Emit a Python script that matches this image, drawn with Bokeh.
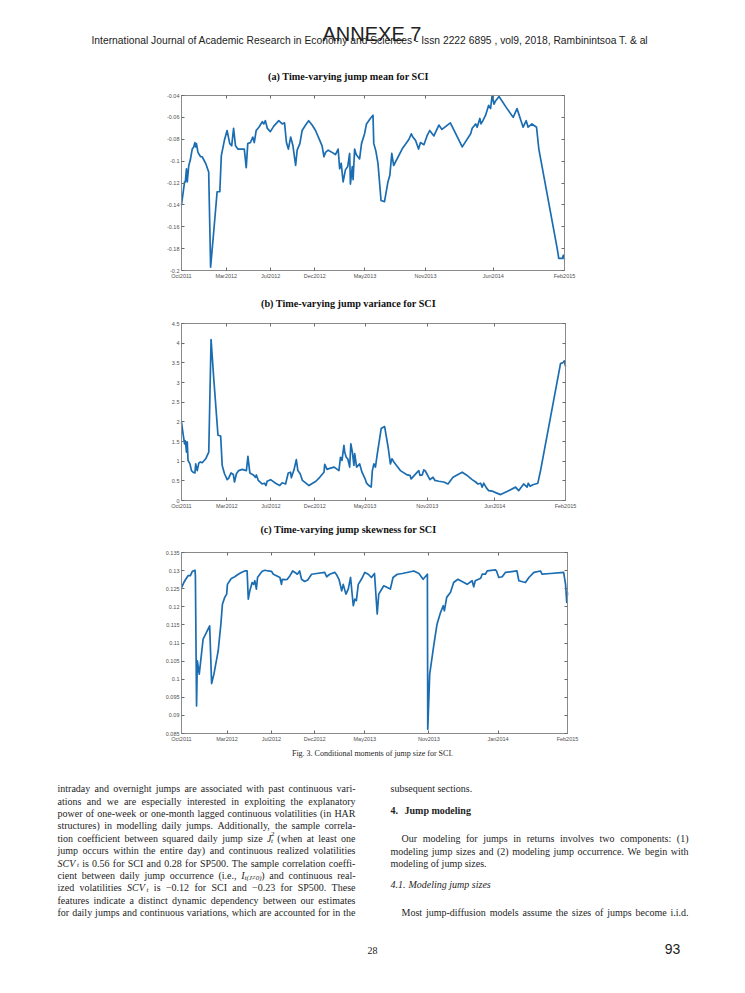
from bokeh.plotting import figure
from bokeh.models import Range1d, FixedTicker, LinearAxis, CustomJSTickFormatter
from bokeh.embed import file_html
from bokeh.resources import INLINE
from bokeh.core.properties import value

# ---------------- data (x = position along the sample, % of the period) ----------------
mean_pts = [(0.0,-0.140),(0.8,-0.119),(1.0,-0.119),(1.3,-0.107),(1.5,-0.119),(1.9,-0.104),(2.3,-0.099),
 (2.8,-0.089),(3.2,-0.087),(3.5,-0.083),(3.7,-0.087),(3.9,-0.084),(4.3,-0.092),(5.0,-0.096),(5.4,-0.096),
 (6.3,-0.102),(7.1,-0.110),(7.6,-0.197),(8.4,-0.165),(9.3,-0.128),(10.0,-0.128),(10.4,-0.095),(11.2,-0.081),
 (11.9,-0.072),(12.6,-0.084),(13.1,-0.086),(13.6,-0.070),(14.1,-0.086),(14.7,-0.089),(15.4,-0.089),
 (16.4,-0.089),(16.9,-0.106),(17.3,-0.084),(18.0,-0.083),(18.6,-0.078),(19.0,-0.083),(19.5,-0.072),
 (20.2,-0.069),(21.1,-0.064),(21.5,-0.066),(21.9,-0.063),(22.4,-0.070),(23.2,-0.073),(24.1,-0.068),
 (25.4,-0.063),(26.3,-0.066),(26.9,-0.065),(27.4,-0.083),(27.9,-0.089),(28.5,-0.078),(29.1,-0.086),
 (29.8,-0.104),(30.2,-0.090),(30.9,-0.084),(31.5,-0.072),(32.4,-0.067),(33.2,-0.063),(34.1,-0.067),
 (35.0,-0.072),(36.1,-0.081),(36.7,-0.086),(37.2,-0.096),(37.6,-0.092),(38.3,-0.090),(39.3,-0.092),
 (40.2,-0.094),(40.9,-0.089),(41.3,-0.107),(41.7,-0.102),(42.2,-0.119),(42.8,-0.108),(43.4,-0.105),
 (43.9,-0.093),(44.1,-0.121),(44.6,-0.105),(44.8,-0.117),(45.2,-0.089),(45.6,-0.094),(46.5,-0.098),
 (47.0,-0.084),(47.8,-0.075),(48.3,-0.066),(49.3,-0.061),(50.0,-0.058),(50.2,-0.084),(50.7,-0.090),
 (51.3,-0.102),(52.1,-0.136),(53.0,-0.137),(53.9,-0.119),(54.4,-0.113),(54.9,-0.093),(55.4,-0.104),
 (57.6,-0.089),(59.4,-0.080),(60.0,-0.075),(60.4,-0.078),(61.1,-0.081),(61.9,-0.089),(62.4,-0.083),
 (63.3,-0.085),(64.1,-0.077),(64.8,-0.072),(65.9,-0.077),(67.2,-0.067),(68.0,-0.071),(70.2,-0.065),
 (73.3,-0.087),(75.5,-0.075),(75.9,-0.070),(76.8,-0.066),(77.2,-0.069),(77.9,-0.061),(78.2,-0.066),
 (78.7,-0.063),(79.4,-0.058),(80.2,-0.049),(80.7,-0.052),(81.1,-0.040),(81.6,-0.048),(82.0,-0.045),
 (82.9,-0.041),(85.0,-0.052),(86.6,-0.060),(87.6,-0.052),(89.2,-0.069),(90.0,-0.063),(90.5,-0.069),
 (91.5,-0.066),(92.7,-0.069),(93.3,-0.089),(98.1,-0.180),(98.5,-0.189),(99.4,-0.189),(99.7,-0.186),
 (100.0,-0.190)]

var_pts = [(0.0,1.99),(0.4,1.70),(0.8,1.44),(1.0,1.52),(1.3,1.23),(1.5,1.49),(1.7,1.02),(2.2,0.93),
 (2.6,0.76),(3.0,0.72),(3.5,0.70),(3.7,0.93),(4.1,0.76),(4.5,0.95),(4.9,0.98),(5.4,0.96),(6.3,1.06),
 (7.1,1.23),(7.7,4.09),(8.4,3.10),(9.5,1.66),(10.2,1.64),(10.6,0.89),(11.2,0.68),(11.9,0.53),(12.3,0.57),
 (12.9,0.70),(13.5,0.66),(13.8,0.47),(14.3,0.68),(14.9,0.76),(15.8,0.79),(16.9,0.76),(17.3,1.12),
 (17.8,0.70),(18.7,0.65),(19.3,0.59),(19.5,0.65),(20.0,0.51),(21.0,0.42),(21.6,0.44),(22.0,0.38),
 (22.3,0.49),(23.2,0.53),(24.5,0.44),(25.6,0.38),(26.2,0.45),(27.1,0.42),(27.8,0.70),(28.4,0.72),
 (28.6,0.58),(29.3,0.78),(29.9,1.04),(30.3,0.76),(30.9,0.68),(31.5,0.51),(33.2,0.38),(35.0,0.49),
 (36.0,0.59),(37.1,0.72),(37.3,0.92),(37.9,0.79),(38.4,0.81),(39.7,0.85),(40.3,0.81),(41.0,0.76),
 (41.4,1.10),(41.8,1.02),(42.3,1.40),(42.5,1.23),(42.9,1.10),(43.3,1.06),(43.8,0.85),(44.1,1.44),
 (44.5,1.23),(44.9,0.89),(45.1,1.19),(45.6,0.85),(46.4,0.93),(47.0,0.72),(47.9,0.53),(48.2,0.44),
 (48.8,0.38),(49.4,0.34),(49.7,0.76),(50.1,0.93),(50.5,0.85),(51.0,1.19),(52.0,1.83),(52.9,1.88),
 (53.8,1.36),(54.4,0.93),(54.8,1.06),(55.3,0.98),(57.0,0.76),(58.8,0.65),(59.5,0.64),(59.8,0.55),
 (61.4,0.72),(61.8,0.76),(62.1,0.64),(62.7,0.65),(63.1,0.78),(63.5,0.75),(64.7,0.53),(65.5,0.59),
 (66.0,0.51),(67.0,0.49),(68.3,0.47),(69.4,0.42),(70.7,0.59),(73.1,0.72),(74.2,0.65),(75.7,0.53),
 (76.6,0.47),(77.2,0.42),(77.9,0.44),(78.3,0.34),(78.7,0.44),(79.4,0.32),(80.0,0.25),(80.9,0.24),
 (81.8,0.20),(83.1,0.15),(85.2,0.25),(87.0,0.34),(87.8,0.25),(89.1,0.42),(90.0,0.34),(90.3,0.44),
 (90.8,0.36),(91.5,0.40),(92.8,0.44),(93.5,0.76),(98.7,3.48),(99.4,3.51),(99.7,3.55),(100.0,3.41)]

skew_pts = [(0.0,0.1253),(0.6,0.1267),(1.1,0.1276),(1.7,0.1286),(2.3,0.1286),(2.8,0.1298),(3.5,0.1301),
 (3.6,0.1286),(3.9,0.0926),(4.1,0.1051),(4.6,0.1014),(5.6,0.1111),(7.3,0.1147),(7.8,0.0988),(8.4,0.1014),
 (9.5,0.1078),(10.2,0.1152),(10.6,0.1207),(11.2,0.1226),(11.7,0.1235),(11.9,0.1262),(12.5,0.1272),
 (12.9,0.1278),(13.8,0.1283),(14.7,0.1290),(15.5,0.1295),(16.4,0.1299),(17.0,0.1299),(17.3,0.1221),
 (17.7,0.1244),(18.3,0.1267),(18.7,0.1262),(19.0,0.1272),(19.4,0.1249),(19.7,0.1281),(20.3,0.1290),
 (20.9,0.1298),(21.6,0.1301),(22.5,0.1299),(23.3,0.1298),(23.8,0.1290),(24.6,0.1286),(25.5,0.1281),
 (25.9,0.1262),(26.1,0.1276),(26.8,0.1275),(27.4,0.1276),(28.1,0.1286),(28.8,0.1299),(29.4,0.1295),
 (30.0,0.1290),(30.6,0.1299),(31.1,0.1276),(31.9,0.1270),(32.7,0.1274),(33.7,0.1290),(35.0,0.1292),
 (37.1,0.1295),(37.6,0.1283),(38.4,0.1290),(39.7,0.1295),(40.1,0.1290),(40.8,0.1276),(41.5,0.1244),
 (41.9,0.1262),(42.6,0.1235),(43.2,0.1249),(43.8,0.1281),(44.5,0.1203),(44.9,0.1221),(45.3,0.1217),
 (45.8,0.1262),(46.6,0.1276),(47.5,0.1295),(48.4,0.1290),(49.2,0.1281),(50.0,0.1292),(50.7,0.1180),
 (51.1,0.1235),(52.4,0.1258),(54.1,0.1249),(54.8,0.1281),(55.9,0.1290),(57.2,0.1292),(60.2,0.1299),
 (61.5,0.1292),(62.6,0.1276),(63.7,0.1290),(63.8,0.0862),(64.3,0.1014),(65.4,0.1097),(66.2,0.1152),
 (67.1,0.1184),(67.8,0.1203),(68.1,0.1189),(68.7,0.1226),(69.7,0.1240),(70.5,0.1267),(71.6,0.1276),
 (74.0,0.1262),(75.3,0.1272),(75.7,0.1255),(76.1,0.1272),(77.5,0.1279),(77.9,0.1290),(78.7,0.1290),
 (79.2,0.1299),(81.3,0.1302),(81.6,0.1299),(82.2,0.1281),(83.1,0.1283),(83.9,0.1295),(86.9,0.1299),
 (87.4,0.1272),(89.1,0.1267),(90.0,0.1281),(91.3,0.1295),(93.0,0.1299),(93.4,0.1290),(95.6,0.1292),
 (99.0,0.1295),(99.5,0.1262),(99.8,0.1212),(100.0,0.1240)]

mean_xticks = [0, 11.7, 23.3, 34.8, 47.9, 63.7, 81.4, 100]
var_xticks = [0, 11.8, 23.3, 34.7, 47.8, 64.0, 81.6, 100]
skew_xticks = [0, 11.8, 23.3, 34.5, 47.5, 64.1, 82.0, 100]
date_labels_ab = ["Oct2011", "Mar2012", "Jul2012", "Dec2012", "May2013", "Nov2013", "Jun2014", "Feb2015"]
date_labels_c = ["Oct2011", "Mar2012", "Jul2012", "Dec2012", "May2013", "Nov2013", "Jan2014", "Feb2015"]

mean_yticks = [-0.2, -0.18, -0.16, -0.14, -0.12, -0.1, -0.08, -0.06, -0.04]
var_yticks = [0, 0.5, 1, 1.5, 2, 2.5, 3, 3.5, 4, 4.5]
skew_yticks = [0.085, 0.09, 0.095, 0.1, 0.105, 0.11, 0.115, 0.12, 0.125, 0.13, 0.135]

title_a = "(a) Time-varying jump mean for SCI"
title_b = "(b) Time-varying jump variance for SCI"
title_c = "(c) Time-varying jump skewness for SCI"
caption = "Fig. 3. Conditional moments of jump size for SCI."
header = "International Journal of Academic Research in Economy and Sciences  -  Issn 2222 6895 , vol9, 2018, Rambinintsoa T. & al"
annexe = "ANNEXE 7"

left_lines = [
 "intraday and overnight jumps are associated with past continuous vari-",
 "ations and we are especially interested in exploiting the explanatory",
 "power of one-week or one-month lagged continuous volatilities (in HAR",
 "structures) in modelling daily jumps. Additionally, the sample correla-",
 "tion coefficient between squared daily jump size §J (when at least one",
 "jump occurs within the entire day) and continuous realized volatilities",
 "§SCV is 0.56 for SCI and 0.28 for SP500. The sample correlation coeffi-",
 "cient between daily jump occurrence (i.e., §I) and continuous real-",
 "ized volatilities §SCV is \u22120.12 for SCI and \u22120.23 for SP500. These",
 "features indicate a distinct dynamic dependency between our estimates",
 "for daily jumps and continuous variations, which are accounted for in the",
]

# ---------------- style ----------------
W, H = 744, 991
LINE_COLOR = "#1b6db2"
BOX_COLOR = "#8a8a8a"
TICK_TEXT = "#505050"
TEXT = "#1e1e1e"
SERIF = "Liberation Serif"
SANS = "Liberation Sans"

TIMES = {' ':250,'!':333,'(':333,')':333,',':250,'-':333,'.':250,':':278,';':278,'=':564,'\u2212':564,'\u2260':549,
 'A':722,'B':667,'C':667,'D':722,'E':611,'F':556,'G':722,'H':722,'I':333,'J':389,'K':722,'L':611,'M':889,
 'N':722,'O':722,'P':556,'Q':722,'R':667,'S':556,'T':611,'U':722,'V':722,'W':944,'X':722,'Y':722,'Z':611,
 'a':444,'b':500,'c':444,'d':500,'e':444,'f':333,'g':500,'h':500,'i':278,'j':278,'k':500,'l':278,'m':778,
 'n':500,'o':500,'p':500,'q':500,'r':333,'s':389,'t':278,'u':500,'v':500,'w':722,'x':500,'y':500,'z':444}

def w_em(s):
    return sum(TIMES.get(c, 500) for c in s) / 1000.0

SPECIAL = {
 "§J": [("J", "italic", 1.0, 0.0, True), ("2", "normal", 0.7, -0.45, False), ("t", "italic", 0.7, 0.22, True)],
 "§SCV": [("SCV", "italic", 1.0, 0.0, True), ("t", "italic", 0.7, 0.22, True)],
 "§I": [("I", "italic", 1.0, 0.0, True), ("t(J\u22600)", "italic", 0.7, 0.22, True)],
}

# one page-sized figure; x/y default ranges are page pixels (y downwards)
page = figure(width=W, height=H, x_range=Range1d(0, W), y_range=Range1d(H, 0),
              x_axis_type=None, y_axis_type=None, toolbar_location=None, output_backend="svg",
              min_border=0, outline_line_color=None)
page.background_fill_color = "white"
page.border_fill_color = "white"


def put(x, y, s, size, font=SERIF, style="normal", align="left", color=TEXT, baseline="middle"):
    page.text(x=[x], y=[y], text=[s], text_font=value(font), text_font_size=f"{size:.2f}px",
              text_font_style=style, text_align=align, text_baseline=baseline, text_color=color)


class Body:
    def __init__(self):
        self.groups = {}

    def add(self, style, size, x, y, s):
        g = self.groups.setdefault((style, round(size, 2)), ([], [], []))
        g[0].append(x); g[1].append(y); g[2].append(s)

    def line(self, text, x0, width, base, size, justify=True):
        items = []
        for w in text.split(" "):
            parts = None
            for key, sp in SPECIAL.items():
                if w.startswith(key):
                    parts = list(sp)
                    rest = w[len(key):]
                    if rest:
                        parts.append((rest, "normal", 1.0, 0.0, True))
                    break
            if parts is None:
                parts = [(w, "normal", 1.0, 0.0, True)]
            wid = sum(w_em(t) * size * sc for (t, st, sc, dy, adv) in parts if adv)
            items.append((parts, wid))
        total = sum(i[1] for i in items)
        n = len(items) - 1
        gap = (width - total) / n if (justify and n > 0) else 0.25 * size
        x = x0
        for parts, wid in items:
            px = x
            for (t, st, sc, dy, adv) in parts:
                self.add(st, size * sc, px, base + dy * size, t)
                if adv:
                    px += w_em(t) * size * sc
            x += wid + gap

    def draw(self):
        for (style, size), (xs, ys, ts) in self.groups.items():
            page.text(x=xs, y=ys, text=ts, text_font=value(SERIF), text_font_size=f"{size:.2f}px",
                      text_font_style=style, text_align="left", text_baseline="alphabetic", text_color=TEXT)


def chart(name, pts, ylim, yticks, xticks, xlabels, left, right, top, bottom):
    ymin, ymax = ylim
    xspan = 100.0 * W / (right - left)
    xs0 = -left * xspan / W
    yspan = (ymax - ymin) * H / (bottom - top)
    ys0 = ymin - (H - bottom) * (ymax - ymin) / (bottom - top)
    xn, yn = "x" + name, "y" + name
    page.extra_x_ranges[xn] = Range1d(xs0, xs0 + xspan)
    page.extra_y_ranges[yn] = Range1d(ys0, ys0 + yspan)

    page.line([a for a, b in pts], [b for a, b in pts], x_range_name=xn, y_range_name=yn,
              line_color=LINE_COLOR, line_width=1.7, line_join="round")

    xt = FixedTicker(ticks=xticks)
    yt = FixedTicker(ticks=yticks)
    yfmt = CustomJSTickFormatter(code="return String(parseFloat(tick.toFixed(4)));")
    axes = [
        (LinearAxis(x_range_name=xn, y_range_name=yn, fixed_location=0, bounds=(ymin, ymax),
                    ticker=yt, formatter=yfmt), "left", True),
        (LinearAxis(x_range_name=xn, y_range_name=yn, fixed_location=100, bounds=(ymin, ymax),
                    ticker=yt), "right", False),
        (LinearAxis(x_range_name=xn, y_range_name=yn, fixed_location=ymin, bounds=(0, 100),
                    ticker=xt, major_label_overrides={t: l for t, l in zip(xticks, xlabels)}), "below", True),
        (LinearAxis(x_range_name=xn, y_range_name=yn, fixed_location=ymax, bounds=(0, 100),
                    ticker=xt), "above", False),
    ]
    for ax, side, labelled in axes:
        ax.axis_line_color = BOX_COLOR
        ax.axis_line_width = 1
        ax.major_tick_in = 3
        ax.major_tick_out = 0
        ax.major_tick_line_color = "#6a6a6a"
        ax.minor_tick_line_color = None
        ax.major_label_text_font = SANS
        ax.major_label_text_font_size = "5.5px"
        ax.major_label_standoff = 2
        ax.major_label_text_color = TICK_TEXT if labelled else None
        page.add_layout(ax, side)


# ---------------- header & titles ----------------
TITLE_X = 348
TITLE_SIZE = 10.2
put(91, 40, header, 10.3, font=SANS, color="#222222")
put(322, 33, annexe, 20, font=SANS, color="#222222")
put(TITLE_X, 76, title_a, TITLE_SIZE, style="bold", align="center", color="#111111")
put(TITLE_X, 303, title_b, TITLE_SIZE, style="bold", align="center", color="#111111")
put(TITLE_X, 529, title_c, TITLE_SIZE, style="bold", align="center", color="#111111")

# ---------------- charts ----------------
chart("a", mean_pts, (-0.2, -0.04), mean_yticks, mean_xticks, date_labels_ab, 181, 564, 95, 270)
chart("b", var_pts, (0, 4.5), var_yticks, var_xticks, date_labels_ab, 181, 565, 323, 500)
chart("c", skew_pts, (0.085, 0.135), skew_yticks, skew_xticks, date_labels_c, 181, 567, 552, 733)

# ---------------- caption & body text ----------------
put(372, 753, caption, 8, align="center")

BODY = 10.0
body = Body()
y = 785.0
for ln in left_lines:
    body.line(ln, 57, 298, y + 3.2, BODY, justify=True)
    y += 12.4
body.line("subsequent sections.", 390, 298, 785 + 3.2, BODY, justify=False)
body.line("Our modeling for jumps in returns involves two components: (1)", 401, 287, 835 + 3.2, BODY)
body.line("modeling jump sizes and (2) modeling jump occurrence. We begin with", 390, 298, 847.4 + 3.2, BODY)
body.line("modeling of jump sizes.", 390, 298, 859.8 + 3.2, BODY, justify=False)
body.line("Most jump-diffusion models assume the sizes of jumps become i.i.d.", 401, 287, 909 + 3.2, BODY)
body.draw()

put(390, 810, "4.", BODY, style="bold")
put(404, 810, "Jump modeling", BODY, style="bold")
put(390, 884, "4.1.", BODY, style="italic")
put(408, 884, "Modeling jump sizes", BODY, style="italic")
put(372, 950, "28", BODY, align="center")
put(672, 948, "93", 14, font=SANS, align="center", color="#222222")

open("out.html", "w").write(file_html(page, INLINE))
